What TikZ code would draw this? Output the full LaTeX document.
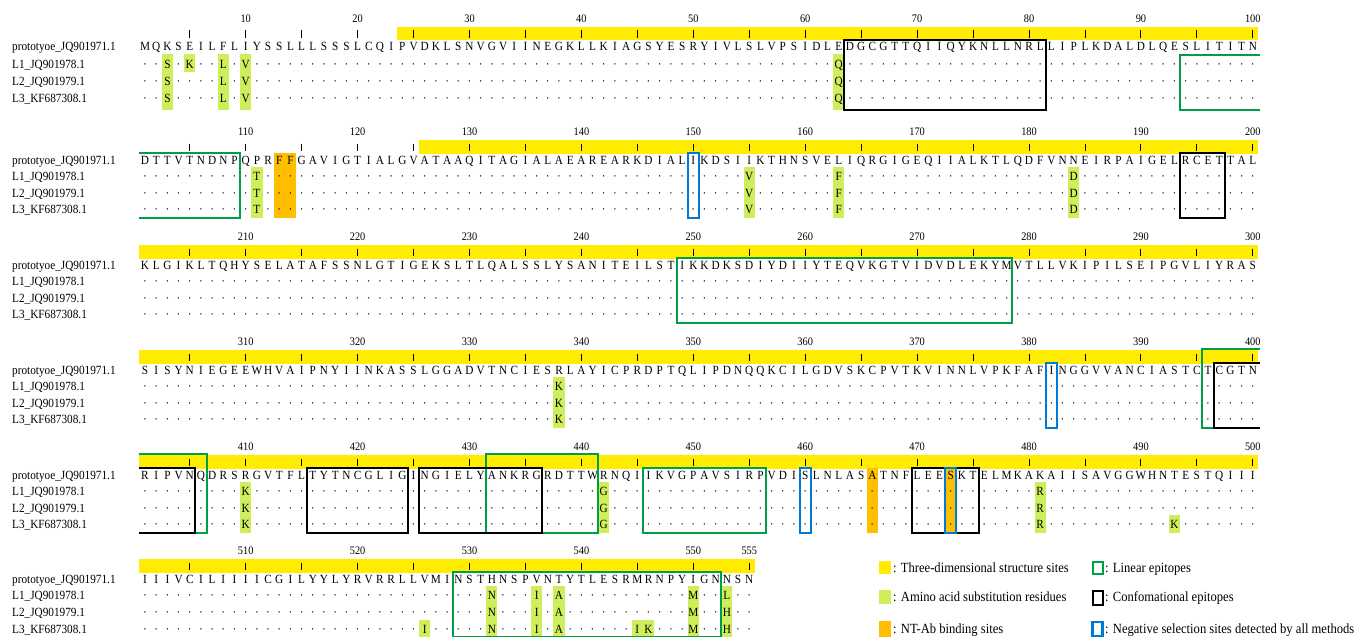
\documentclass[tikz,border=0pt]{standalone}
\usepackage{fontspec}
\setmainfont{Liberation Serif}
\newfontfamily\cond[FakeStretch=0.9]{Liberation Serif}
\definecolor{yelbar}{RGB}{255,236,0}
\definecolor{subc}{RGB}{206,238,92}
\definecolor{orng}{RGB}{255,190,0}
\definecolor{epig}{RGB}{0,158,70}
\definecolor{negb}{RGB}{0,122,215}

\makeatletter
\def\By#1{\csname By@#1\endcsname}
\def\Sp#1{\csname Sp@#1\endcsname}
\def\Bt#1{\csname Bt@#1\endcsname}
\expandafter\def\csname By@1\endcsname{46.5}
\expandafter\def\csname By@2\endcsname{160}
\expandafter\def\csname By@3\endcsname{265}
\expandafter\def\csname By@4\endcsname{370}
\expandafter\def\csname By@5\endcsname{475}
\expandafter\def\csname By@6\endcsname{579}
\expandafter\def\csname Sp@1\endcsname{17.3}
\expandafter\def\csname Sp@2\endcsname{16.5}
\expandafter\def\csname Sp@3\endcsname{16.5}
\expandafter\def\csname Sp@4\endcsname{16.5}
\expandafter\def\csname Sp@5\endcsname{16.5}
\expandafter\def\csname Sp@6\endcsname{16.7}
\expandafter\def\csname Bt@1\endcsname{63}
\expandafter\def\csname Bt@2\endcsname{58}
\expandafter\def\csname Bt@3\endcsname{58}
\expandafter\def\csname Bt@4\endcsname{58}
\expandafter\def\csname Bt@5\endcsname{58}
\expandafter\def\csname Bt@6\endcsname{57.5}
\newcount\seqi
\def\protorow#1#2{\global\seqi=0 \def\seq@b{#1}\seq@loop#2\@nil}
\def\seq@loop#1{%
  \ifx\@nil#1\expandafter\@gobble\else\expandafter\@firstofone\fi
  {\global\advance\seqi by 1
   \edef\seq@nm{p\seq@b x\the\seqi}%
   \edef\seq@x{\the\seqi}%
   \node[seqc] (\seq@nm) at ({145+(\seq@x-1)*11.19},{\By{\seq@b}+4.2}) {#1};%
   \seq@loop}}
\newcommand\subst[4]{\expandafter\def\csname sub#1r#2c#3\endcsname{#4}}
\newcommand\suball[3]{\subst{#1}{1}{#2}{#3}\subst{#1}{2}{#2}{#3}\subst{#1}{3}{#2}{#3}}
\newcommand\lrow[3]{%
  \foreach \ci in {1,...,#3}{%
    \ifcsname sub#1r#2c\ci\endcsname
      \edef\ch{\csname sub#1r#2c\ci\endcsname}%
    \else
      \def\ch{·}%
    \fi
    \node[seqc] (l#1r#2c\ci) at ({145+(\ci-1)*11.19},{\By{#1}+\Sp{#1}*#2+4.2}) {\ch};
  }}
\makeatother

% highlight: colour, block, i1, i2, row1, row2
\newcommand\hl[6]{\fill[#1] ({145+(#3-1)*11.19-5.6},{\By{#2}+\Sp{#2}*#5-9.5+(#5==0)*2.5}) rectangle ({145+(#4-1)*11.19+5.6},{\By{#2}+\Sp{#2}*#6+8.5+(#6==3)*(\Bt{#2}-\Sp{#2}*3-8.5)});}
% closed box: style, block, i1, i2, top
\newcommand\bx[5]{\draw[#1] ({145+(#3-1)*11.19-5.6},{\By{#2}+#5}) rectangle ({145+(#4-1)*11.19+5.6},{\By{#2}+\Bt{#2}});}
% box open to the right: style, block, i1, top
\newcommand\bxR[4]{\draw[#1] (1259.5,{\By{#2}+#4}) -| ({145+(#3-1)*11.19-5.6},{\By{#2}+\Bt{#2}}) -- (1259.5,{\By{#2}+\Bt{#2}});}
% box open to the left: style, block, i2, top
\newcommand\bxL[4]{\draw[#1] (138.5,{\By{#2}+#4}) -| ({145+(#3-1)*11.19+5.6},{\By{#2}+\Bt{#2}}) -- (138.5,{\By{#2}+\Bt{#2}});}

\suball{1}{3}{S}\subst{1}{1}{5}{K}\suball{1}{8}{L}\suball{1}{10}{V}\suball{1}{63}{Q}
\suball{2}{11}{T}\suball{2}{55}{V}\suball{2}{63}{F}\suball{2}{84}{D}
\suball{4}{38}{K}
\suball{5}{10}{K}\suball{5}{42}{G}\suball{5}{81}{R}\subst{5}{3}{93}{K}
\suball{6}{32}{N}\suball{6}{36}{I}\suball{6}{38}{A}\suball{6}{50}{M}
\subst{6}{1}{53}{L}\subst{6}{2}{53}{H}\subst{6}{3}{53}{H}
\subst{6}{3}{26}{I}\subst{6}{3}{45}{I}\subst{6}{3}{46}{K}

\tikzset{
  seqc/.style={inner sep=0pt, anchor=base, font=\cond\fontsize{12.5}{13}\selectfont},
  numc/.style={inner sep=0pt, anchor=base, font=\cond\fontsize{11.5}{12}\selectfont},
  labc/.style={inner sep=0pt, anchor=base west, font=\cond\fontsize{12.5}{13}\selectfont},
  legt/.style={inner sep=0pt, anchor=base west, font=\cond\fontsize{14}{15}\selectfont},
  tickl/.style={line width=0.9pt},
  blk/.style={draw=black, line width=2pt},
  grn/.style={draw=epig, line width=2pt},
  blu/.style={draw=negb, line width=2.2pt},
}

\begin{document}
\begin{tikzpicture}[x=1pt,y=-1pt]
\useasboundingbox (0,0) rectangle (1365,637);
\fill[white] (0,0) rectangle (1365,637);

% yellow bars and ticks
\foreach \bk/\s/\e in {1/24/100, 2/26/100, 3/1/100, 4/1/100, 5/1/100, 6/1/55}{
  \fill[yelbar] ({145+(\s-1)*11.19-5.6},{\By{\bk}-20}) rectangle ({145+(\e-1)*11.19+5.6},{\By{\bk}-6.5});
  \foreach \t in {5,10,...,\e}{\draw[tickl] ({145+(\t-1)*11.19},{\By{\bk}-16.5}) -- ++(0,7.5);}
}
% position numbers
\foreach \bk/\e in {1/100, 2/100, 3/100, 4/100, 5/100, 6/50}{
  \foreach \t in {10,20,...,\e}{
    \pgfmathtruncatemacro\v{(\bk-1)*100+\t}
    \node[numc] (n\bk x\t) at ({145+(\t-1)*11.19},{\By{\bk}-24.5}) {\v};
  }
}
\node[numc] (n6x55) at ({145+54*11.19},{\By{6}-24.5}) {555};

% highlights
\hl{subc}{1}{3}{3}{1}{3}
\hl{subc}{1}{5}{5}{1}{1}
\hl{subc}{1}{8}{8}{1}{3}
\hl{subc}{1}{10}{10}{1}{3}
\hl{subc}{1}{63}{63}{1}{3}
\hl{subc}{2}{11}{11}{1}{3}
\hl{orng}{2}{13}{14}{0}{3}
\hl{subc}{2}{55}{55}{1}{3}
\hl{subc}{2}{63}{63}{1}{3}
\hl{subc}{2}{84}{84}{1}{3}
\hl{subc}{4}{38}{38}{1}{3}
\hl{subc}{5}{10}{10}{1}{3}
\hl{subc}{5}{42}{42}{1}{3}
\hl{orng}{5}{66}{66}{0}{3}
\hl{orng}{5}{73}{73}{0}{3}
\hl{subc}{5}{81}{81}{1}{3}
\hl{subc}{5}{93}{93}{3}{3}
\hl{subc}{6}{26}{26}{3}{3}
\hl{subc}{6}{32}{32}{1}{3}
\hl{subc}{6}{36}{36}{1}{3}
\hl{subc}{6}{38}{38}{1}{3}
\hl{subc}{6}{45}{46}{3}{3}
\hl{subc}{6}{50}{50}{1}{3}
\hl{subc}{6}{53}{53}{1}{3}

% row labels
\foreach \bk in {1,...,6}{
  \node[labc] (lab\bk p) at (12,{\By{\bk}+4.2}) {prototyoe\_JQ901971.1};
  \node[labc] (lab\bk a) at (12,{\By{\bk}+\Sp{\bk}+4.2}) {L1\_JQ901978.1};
  \node[labc] (lab\bk b) at (12,{\By{\bk}+2*\Sp{\bk}+4.2}) {L2\_JQ901979.1};
  \node[labc] (lab\bk c) at (12,{\By{\bk}+3*\Sp{\bk}+4.2}) {L3\_KF687308.1};
}

% prototype sequence
\protorow{1}{MQKSEILFLIYSSLLLSSSLCQIPVDKLSNVGVIINEGKLLKIAGSYESRYIVLSLVPSIDLEDGCGTTQIIQYKNLLNRLLIPLKDALDLQESLITITN}
\protorow{2}{DTTVTNDNPQPRFFGAVIGTIALGVATAAQITAGIALAEAREARKDIALIKDSIIKTHNSVELIQRGIGEQIIALKTLQDFVNNEIRPAIGELRCETTAL}
\protorow{3}{KLGIKLTQHYSELATAFSSNLGTIGEKSLTLQALSSLYSANITEILSTIKKDKSDIYDIIYTEQVKGTVIDVDLEKYMVTLLVKIPILSEIPGVLIYRAS}
\protorow{4}{SISYNIEGEEWHVAIPNYIINKASSLGGADVTNCIESRLAYICPRDPTQLIPDNQQKCILGDVSKCPVTKVINNLVPKFAFINGGVVANCIASTCTCGTN}
\protorow{5}{RIPVNQDRSRGVTFLTYTNCGLIGINGIELYANKRGRDTTWRNQIIKVGPAVSIRPVDISLNLASATNFLEESKTELMKAKAIISAVGGWHNTESTQIII}
\protorow{6}{IIIVCILIIIICGILYYLYRVRRLLVMINSTHNSPVNTYTLESRMRNPYIGNNSN}

% variant rows
\foreach \bk/\n in {1/100, 2/100, 3/100, 4/100, 5/100, 6/55}{
  \foreach \rw in {1,2,3}{\lrow{\bk}{\rw}{\n}}
}

% linear epitopes (green)
\bxR{grn}{1}{94}{8}
\bxL{grn}{2}{9}{-7}
\bx{grn}{3}{49}{78}{-7}
\bxR{grn}{4}{96}{-21}
\bxL{grn}{5}{6}{-21}
\bx{grn}{5}{32}{41}{-21}
\bx{grn}{5}{46}{56}{-7}
\bx{grn}{6}{29}{52}{-7}
% conformational epitopes (black)
\bx{blk}{1}{64}{81}{-7}
\bx{blk}{2}{94}{97}{-7}
\bxR{blk}{4}{97}{-7}
\bxL{blk}{5}{5}{-7}
\bx{blk}{5}{16}{24}{-7}
\bx{blk}{5}{26}{36}{-7}
\bx{blk}{5}{70}{75}{-7}
% negative selection sites (blue)
\bx{blu}{2}{50}{50}{-7}
\bx{blu}{4}{82}{82}{-7}
\bx{blu}{5}{60}{60}{-7}
\bx{blu}{5}{73}{73}{-7}

% legend
\fill[yelbar] (879,561) rectangle (891,574);
\node[legt] (lg1) at (893,572) {: Three-dimensional structure sites};
\fill[subc] (879,590) rectangle (891,604);
\node[legt] (lg2) at (893,601.5) {: Amino acid substitution residues};
\fill[orng] (879,621) rectangle (891,637);
\node[legt] (lg3) at (893,633.5) {: NT-Ab binding sites};
\draw[grn] (1092.5,562) rectangle (1102.5,574);
\node[legt] (lg4) at (1105,572) {: Linear epitopes};
\draw[blk] (1092.5,590.5) rectangle (1102.5,605);
\node[legt] (lg5) at (1105,601.5) {: Confomational epitopes};
\draw[blu] (1092.5,622) rectangle (1102.5,636);
\node[legt] (lg6) at (1105,633.5) {: Negative selection sites detected by all methods};
\end{tikzpicture}
\end{document}
